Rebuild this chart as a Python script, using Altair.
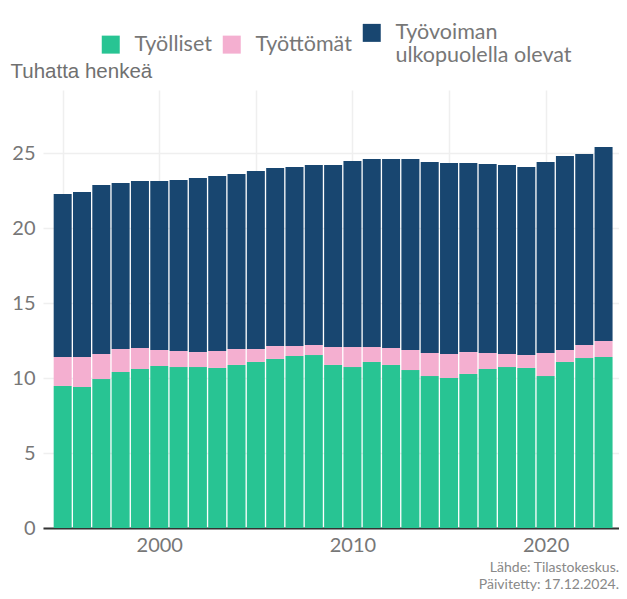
import altair as alt
import pandas as pd

years = list(range(1995, 2024))
tyolliset = [9.47, 9.40, 9.93, 10.40, 10.60, 10.80, 10.73, 10.73, 10.67, 10.87,
             11.07, 11.27, 11.47, 11.53, 10.87, 10.73, 11.07, 10.87, 10.53, 10.13,
             10.00, 10.27, 10.60, 10.73, 10.67, 10.13, 11.07, 11.33, 11.40]
tyottomat = [1.93, 2.00, 1.67, 1.53, 1.40, 1.07, 1.07, 1.00, 1.13, 1.06,
             0.86, 0.86, 0.66, 0.67, 1.20, 1.34, 1.00, 1.13, 1.34, 1.54,
             1.60, 1.46, 1.07, 0.87, 0.86, 1.54, 0.80, 0.87, 1.07]
ulkopuolella = [10.87, 11.00, 11.27, 11.07, 11.13, 11.26, 11.40, 11.60, 11.67, 11.67,
                11.87, 11.87, 11.94, 12.00, 12.13, 12.40, 12.53, 12.60, 12.73, 12.73,
                12.73, 12.60, 12.60, 12.60, 12.54, 12.73, 12.93, 12.73, 12.93]

groups = ["Työlliset", "Työttömät", "Työvoiman ulkopuolella olevat"]
colors = ["#28c493", "#f4afd0", "#184670"]
grid_years = [1995, 2000, 2005, 2010, 2015, 2020]
y_ticks = [0, 5, 10, 15, 20, 25]
source_text = "Lähde: Tilastokeskus.\nPäivitetty: 17.12.2024."

rows = []
for i, y in enumerate(years):
    for gi, (g, series) in enumerate(zip(groups, [tyolliset, tyottomat, ulkopuolella])):
        rows.append({"year": y, "group": g, "idx": gi, "value": series[i]})
df = pd.DataFrame(rows)

W, H = 576, 438

bars = alt.Chart(df).mark_bar(width=18).encode(
    x=alt.X("year:Q",
            scale=alt.Scale(domain=[1994.24, 2023.54], nice=False, zero=False),
            axis=alt.Axis(values=grid_years, format="d",
                          labelExpr="datum.value % 10 == 0 ? datum.label : ''",
                          title=None, ticks=False, grid=True,
                          gridColor="#efefef", gridWidth=1.5,
                          domainColor="#333333", domainWidth=2,
                          labelFont="Lato", labelFontSize=20, labelColor="#777777",
                          labelPadding=7)),
    y=alt.Y("value:Q", stack="zero",
            scale=alt.Scale(domain=[0, 29.2], nice=False),
            axis=alt.Axis(values=y_ticks, title="Tuhatta henkeä", titleAngle=0,
                          titleAlign="left", titleBaseline="alphabetic",
                          titleX=-33, titleY=-13, titleFont="Liberation Sans",
                          titleFontSize=20.5, titleFontWeight="normal",
                          titleColor="#707070", domain=False, ticks=False,
                          grid=True, gridColor="#efefef", gridWidth=1.5,
                          labelFont="Lato", labelFontSize=20, labelColor="#777777",
                          labelPadding=8)),
    color=alt.Color("group:N",
                    scale=alt.Scale(domain=groups, range=colors),
                    legend=alt.Legend(orient="none", legendX=57, legendY=-68,
                                      direction="horizontal", title=None,
                                      symbolType="square", symbolSize=324,
                                      symbolStrokeWidth=0, symbolOpacity=1,
                                      labelFont="Lato", labelFontSize=21.5,
                                      labelColor="#777777", labelOffset=13,
                                      columnPadding=9, labelLimit=400,
                                      labelExpr="datum.label == 'Työvoiman ulkopuolella olevat' ? ['Työvoiman', 'ulkopuolella olevat'] : datum.label")),
    order=alt.Order("idx:Q", sort="ascending"),
)

source = alt.Chart(pd.DataFrame({"t": [source_text]})).mark_text(
    align="right", baseline="middle", lineBreak="\n", font="Lato",
    fontSize=14, color="#888888", lineHeight=17
).encode(text="t:N", x=alt.value(W), y=alt.value(H + 40))

chart = alt.layer(bars, source).properties(
    width=W, height=H,
    padding={"left": 35, "top": 82, "right": 0, "bottom": 63},
    autosize=alt.AutoSizeParams(type="none"),
).configure_view(stroke=None)

chart.save("out.html", embed_options={"renderer": "svg", "actions": False})
